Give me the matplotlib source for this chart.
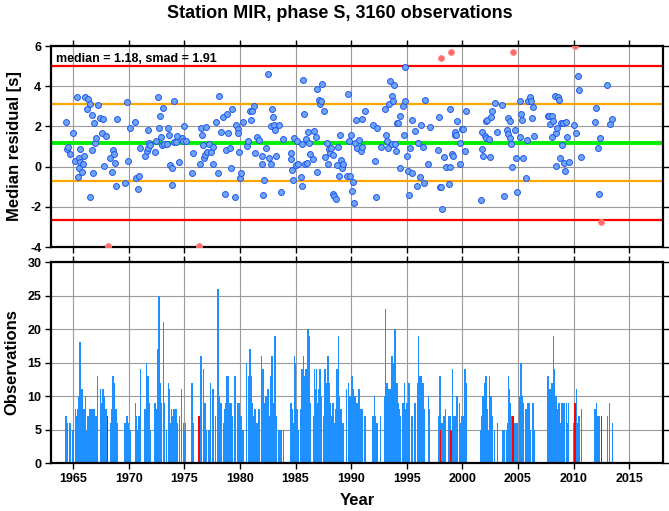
import matplotlib
matplotlib.use("Agg")
import matplotlib.pyplot as plt
import numpy as np

plt.rcParams['font.family'] = ['Liberation Sans', 'DejaVu Sans']
plt.rcParams['axes.unicode_minus'] = False

# one entry per time bin: bin centre (year), median residual [s], number of observations
years = [
    1964.34, 1964.40, 1964.50, 1964.70, 1965.00, 1965.20, 1965.30, 1965.40, 1965.50, 1965.55,
    1965.60, 1965.65, 1965.80, 1965.90, 1965.95, 1966.10, 1966.25, 1966.35, 1966.50, 1966.55,
    1966.65, 1966.70, 1966.80, 1966.90, 1966.95, 1967.05, 1967.20, 1967.45, 1967.55, 1967.70,
    1967.80, 1967.95, 1968.10, 1968.35, 1968.50, 1968.60, 1968.65, 1968.75, 1968.85, 1968.95,
    1969.65, 1969.85, 1969.95, 1970.10, 1970.60, 1970.67, 1970.85, 1970.90, 1971.05, 1971.45,
    1971.60, 1971.70, 1971.75, 1971.85, 1971.90, 1972.35, 1972.45, 1972.60, 1972.70, 1972.80,
    1972.85, 1972.95, 1973.10, 1973.15, 1973.40, 1973.55, 1973.65, 1973.70, 1973.85, 1973.90,
    1974.05, 1974.08, 1974.25, 1974.35, 1974.55, 1974.75, 1974.90, 1975.00, 1975.10, 1975.70,
    1975.75, 1976.30, 1976.40, 1976.45, 1976.55, 1976.70, 1976.75, 1976.85, 1976.90, 1977.00,
    1977.20, 1977.35, 1977.55, 1977.60, 1977.80, 1978.00, 1978.10, 1978.30, 1978.50, 1978.65,
    1978.70, 1978.80, 1978.90, 1979.10, 1979.20, 1979.30, 1979.55, 1979.60, 1979.80, 1979.85,
    1979.95, 1980.00, 1980.10, 1980.25, 1980.60, 1980.75, 1980.90, 1981.00, 1981.10, 1981.25,
    1981.35, 1981.55, 1981.70, 1981.95, 1982.00, 1982.05, 1982.20, 1982.35, 1982.50, 1982.60,
    1982.75, 1982.80, 1982.90, 1983.00, 1983.05, 1983.15, 1983.25, 1983.50, 1983.70, 1983.90,
    1984.55, 1984.60, 1984.70, 1984.80, 1984.90, 1985.00, 1985.15, 1985.25, 1985.45, 1985.55,
    1985.60, 1985.70, 1985.80, 1985.85, 1985.95, 1986.00, 1986.10, 1986.25, 1986.30, 1986.60,
    1986.70, 1986.80, 1986.90, 1986.95, 1987.10, 1987.20, 1987.30, 1987.35, 1987.55, 1987.65,
    1987.80, 1987.90, 1988.00, 1988.10, 1988.20, 1988.35, 1988.40, 1988.50, 1988.65, 1988.75,
    1988.85, 1988.95, 1989.00, 1989.10, 1989.15, 1989.25, 1989.60, 1989.75, 1989.85, 1989.90,
    1990.00, 1990.10, 1990.20, 1990.25, 1990.35, 1990.45, 1990.55, 1990.70, 1990.85, 1990.95,
    1991.00, 1991.25, 1991.95, 1992.10, 1992.20, 1992.30, 1992.65, 1993.00, 1993.10, 1993.20,
    1993.30, 1993.40, 1993.50, 1993.65, 1993.70, 1993.75, 1993.85, 1993.95, 1994.00, 1994.10,
    1994.20, 1994.35, 1994.40, 1994.65, 1994.75, 1994.80, 1994.85, 1995.00, 1995.10, 1995.20,
    1995.25, 1995.45, 1995.50, 1995.75, 1995.95, 1996.05, 1996.20, 1996.30, 1996.45, 1996.55,
    1996.60, 1996.95, 1997.05, 1997.85, 1997.90, 1998.00, 1998.05, 1998.10, 1998.15, 1998.35,
    1998.50, 1998.80, 1998.85, 1998.90, 1999.00, 1999.10, 1999.20, 1999.30, 1999.35, 1999.40,
    1999.50, 1999.75, 1999.80, 1999.95, 2000.10, 2000.25, 2000.35, 2001.70, 2001.75, 2001.80,
    2001.85, 2002.00, 2002.10, 2002.15, 2002.25, 2002.40, 2002.45, 2002.60, 2002.70, 2002.90,
    2003.15, 2003.60, 2003.75, 2004.00, 2004.10, 2004.15, 2004.25, 2004.30, 2004.35, 2004.45,
    2004.55, 2004.70, 2004.80, 2004.90, 2005.15, 2005.20, 2005.30, 2005.40, 2005.50, 2005.75,
    2005.85, 2005.90, 2006.05, 2006.15, 2006.30, 2006.40, 2006.45, 2007.70, 2007.80, 2007.90,
    2008.05, 2008.10, 2008.20, 2008.30, 2008.40, 2008.45, 2008.50, 2008.65, 2008.70, 2008.75,
    2008.90, 2008.95, 2009.05, 2009.10, 2009.20, 2009.35, 2009.45, 2009.55, 2010.05, 2010.15,
    2010.25, 2010.40, 2010.50, 2010.70, 2011.95, 2012.05, 2012.20, 2012.30, 2012.35, 2012.50,
    2013.05, 2013.25, 2013.50,
]
residuals = [
    2.20, 0.87, 0.97, 0.62, 1.65, 0.30, 3.47, -0.50, -0.05, 0.45,
    0.88, 0.25, -0.25, 0.15, 0.55, 3.47, 2.85, 3.37, -1.53, 3.12,
    2.58, 0.82, -0.30, 2.17, 1.17, 1.42, 3.08, 2.42, 1.65, 2.38,
    0.03, 1.53, -3.97, 0.42, -0.25, 0.82, 0.62, 0.20, -0.98, 2.37,
    -0.82, 3.20, 0.30, 1.90, 2.20, -0.55, -1.10, -0.48, 0.92, 0.55,
    0.78, 0.92, 1.83, 1.18, 1.08, 0.75, 1.28, 3.47, 1.90, 2.50,
    1.45, 1.08, 2.92, 1.12, 1.12, 1.92, 1.58, 0.08, -0.08, -0.92,
    3.28, 1.20, 1.22, 1.50, 0.25, 1.42, 1.28, 2.02, 1.28, -0.30,
    0.70, -3.97, 0.15, 1.92, 1.58, 1.08, 0.42, 0.58, 1.95, 0.75,
    1.12, 0.72, 0.97, 0.15, 2.20, -0.30, 3.50, 1.70, 2.45, -1.38,
    0.83, 2.62, 1.65, 0.92, -0.08, 2.88, -1.52, 2.05, 1.87, 1.67,
    0.72, -0.58, -0.30, 2.20, 1.03, 1.28, 2.78, 2.33, 2.75, 3.00,
    0.70, 1.45, 1.32, 0.55, 0.15, -1.43, -0.67, 0.95, 4.62, 0.42,
    0.12, 2.00, 2.87, 2.45, 2.08, 1.80, 0.55, 2.08, -1.25, 1.35,
    0.70, 0.38, -0.18, -0.67, 1.42, 0.08, 1.25, 0.15, -0.50, -0.97,
    1.12, 4.33, 2.63, 0.15, 1.37, 0.17, 1.70, 1.15, 0.65, 0.37,
    1.75, 1.45, -0.27, 3.88, 3.32, 3.12, 3.25, 4.12, 2.78, 0.50,
    1.15, 0.12, 0.88, 0.67, 0.92, 0.58, -1.35, -1.47, -1.62, 0.08,
    1.00, -0.45, 1.55, 0.33, -0.08, 0.15, -0.45, 3.63, 1.28, -0.45,
    1.55, -1.20, -0.75, -1.80, 1.18, 2.32, 0.95, 1.32, 0.78, 0.98,
    2.37, 2.78, 2.07, 0.30, -1.52, 1.90, 1.00, 2.88, 1.55, 1.28,
    0.92, 3.12, 4.25, 3.50, 1.12, 3.25, 4.05, 1.12, 0.78, 2.18,
    2.17, -0.05, 2.52, 3.03, 1.58, 4.97, 3.25, 0.55, -0.20, -1.43,
    0.92, -0.33, 2.30, 1.75, -0.95, 1.15, -0.50, 2.08, 1.00, -0.82,
    3.30, 0.15, 1.95, 0.85, 2.48, -1.03, 5.40, -1.03, -2.13, 0.48,
    -0.02, -0.88, 2.85, -0.02, 5.72, 0.65, 0.55, 1.55, 1.72, 1.58,
    2.25, 0.15, 1.18, 1.88, 1.88, 0.78, 2.78, -1.65, 1.70, 0.88,
    0.55, 1.50, 1.42, 2.28, 2.33, 1.38, 0.48, 2.47, 2.78, 3.18,
    1.73, 3.05, -1.45, 1.82, 1.62, 2.42, 2.25, 1.42, 1.12, -0.02,
    5.70, 1.80, 0.42, -1.28, 3.28, 1.47, 2.62, 2.30, 0.42, -0.58,
    1.32, 3.28, 3.48, 3.28, 2.43, 2.95, 1.53, 2.53, 2.52, 2.12,
    2.52, 1.45, 2.27, 3.53, 1.67, 0.02, 1.92, 3.48, 3.32, 0.45,
    2.18, 1.05, 2.15, 0.17, -0.20, 2.22, 1.45, 0.22, 2.05, 5.98,
    1.65, 4.50, 3.80, 0.48, 2.20, 2.92, 0.95, -1.35, 1.42, -2.75,
    4.08, 2.12, 2.35,
]
counts = [
    7, 5, 6, 6, 5, 8, 7, 8, 10, 7,
    18, 10, 11, 8, 8, 10, 5, 7, 8, 8,
    8, 7, 8, 8, 6, 7, 13, 11, 9, 11,
    10, 8, 7, 6, 8, 13, 12, 8, 8, 6,
    6, 7, 6, 5, 9, 7, 5, 7, 14, 8,
    15, 11, 13, 9, 5, 9, 8, 17, 25, 12,
    10, 9, 21, 9, 5, 12, 11, 6, 8, 7,
    8, 5, 8, 6, 7, 11, 6, 5, 6, 12,
    6, 7, 5, 16, 16, 14, 9, 8, 9, 5,
    5, 12, 11, 9, 7, 26, 10, 9, 6, 8,
    9, 13, 13, 9, 9, 7, 13, 6, 9, 7,
    9, 6, 7, 5, 15, 13, 17, 13, 9, 7,
    8, 6, 8, 16, 14, 14, 9, 10, 11, 7,
    6, 13, 16, 9, 8, 19, 7, 5, 5, 5,
    5, 9, 8, 6, 16, 15, 8, 5, 8, 8,
    14, 16, 13, 10, 14, 12, 20, 19, 9, 7,
    14, 11, 14, 9, 11, 14, 10, 9, 7, 14,
    12, 16, 12, 9, 7, 9, 8, 6, 8, 14,
    19, 10, 8, 5, 8, 6, 11, 12, 9, 10,
    10, 13, 11, 5, 10, 9, 9, 11, 8, 8,
    5, 7, 7, 10, 7, 6, 7, 10, 23, 12,
    11, 10, 11, 16, 12, 15, 11, 20, 14, 12,
    9, 8, 7, 9, 9, 12, 8, 9, 7, 12,
    12, 7, 5, 9, 12, 19, 13, 13, 12, 8,
    5, 10, 8, 7, 6, 13, 5, 6, 6, 7,
    8, 7, 6, 7, 5, 14, 7, 7, 7, 6,
    10, 9, 6, 7, 7, 14, 12, 5, 7, 8,
    10, 12, 9, 13, 8, 5, 13, 10, 7, 5,
    6, 5, 5, 5, 6, 13, 11, 7, 9, 7,
    7, 6, 6, 6, 10, 10, 15, 10, 9, 8,
    7, 9, 9, 5, 9, 9, 5, 13, 8, 11,
    12, 12, 19, 14, 10, 10, 8, 9, 9, 9,
    6, 9, 9, 8, 9, 9, 6, 9, 6, 9,
    11, 6, 7, 8, 8, 9, 7, 7, 5, 7,
    7, 9, 6,
]
assert len(years) == len(residuals) == len(counts), (len(years), len(residuals), len(counts))

station, phase, n_obs = "MIR", "S", 3160
median, smad = 1.18, 1.91

years = np.array(years)
residuals = np.array(residuals)
counts = np.array(counts)
outlier = np.abs(residuals - median) > 2 * smad

fig = plt.figure(figsize=(6.69, 5.11), dpi=100)
ax1 = fig.add_axes([51 / 669, 1 - 247 / 511, 612 / 669, 201 / 511])
ax2 = fig.add_axes([51 / 669, 1 - 463 / 511, 612 / 669, 201 / 511])

for ax in (ax1, ax2):
    ax.set_xlim(1963.0, 2018.05)
    ax.set_xticks(np.arange(1965, 2016, 5))
    ax.grid(True, color='#9a9a9a', linewidth=0.8)
    ax.set_axisbelow(True)
    ax.tick_params(direction='out', length=4, width=1, top=True, right=True,
                   labelsize=9, pad=3)
    for sp in ax.spines.values():
        sp.set_linewidth(1.6)

# upper panel: median residual per bin
ax1.set_ylim(-4, 6)
ax1.set_yticks([-4, -2, 0, 2, 4, 6])
for lab in ax1.get_yticklabels():
    lab.set_fontweight('bold')
ax1.tick_params(labelbottom=False)
for lev, col, lw in [(median + 2 * smad, '#ff0000', 1.6), (median - 2 * smad, '#ff0000', 1.6),
                     (median + smad, '#ffa500', 1.6), (median - smad, '#ffa500', 1.6),
                     (median, '#00ee00', 2.8)]:
    ax1.axhline(lev, color=col, linewidth=lw, zorder=2)
ax1.scatter(years[~outlier], residuals[~outlier], s=18, c='#6ea6f5', edgecolors='#2255ee',
            linewidths=0.7, zorder=3)
ax1.scatter(years[outlier], residuals[outlier], s=18, c='#ff6b6b', edgecolors='#ff8a8a',
            linewidths=0.7, zorder=3)
ax1.text(0.008, 0.965, f"median = {median:.2f}, smad = {smad:.2f}", transform=ax1.transAxes,
         ha='left', va='top', fontsize=9, fontweight='bold')
ax1.set_ylabel("Median residual [s]", fontsize=12, fontweight='bold', labelpad=6)

# lower panel: number of observations per bin
ax2.set_ylim(0, 30)
ax2.set_yticks(np.arange(0, 31, 5))
for lab in ax2.get_xticklabels() + ax2.get_yticklabels():
    lab.set_fontweight('bold')
ax2.bar(years[~outlier], counts[~outlier], width=0.14, color='#1e90ff', linewidth=0, zorder=2)
ax2.bar(years[outlier], counts[outlier], width=0.14, color='#ff0000', linewidth=0, zorder=2)
ax2.set_ylabel("Observations", fontsize=12, fontweight='bold', labelpad=6)
ax2.set_xlabel("Year", fontsize=12, fontweight='bold', labelpad=6)

fig.text(340 / 669, 1 - 13 / 511, f"Station {station}, phase {phase}, {n_obs} observations",
         ha='center', va='center', fontsize=13, fontweight='bold')

fig.savefig("out.png", dpi=100)
